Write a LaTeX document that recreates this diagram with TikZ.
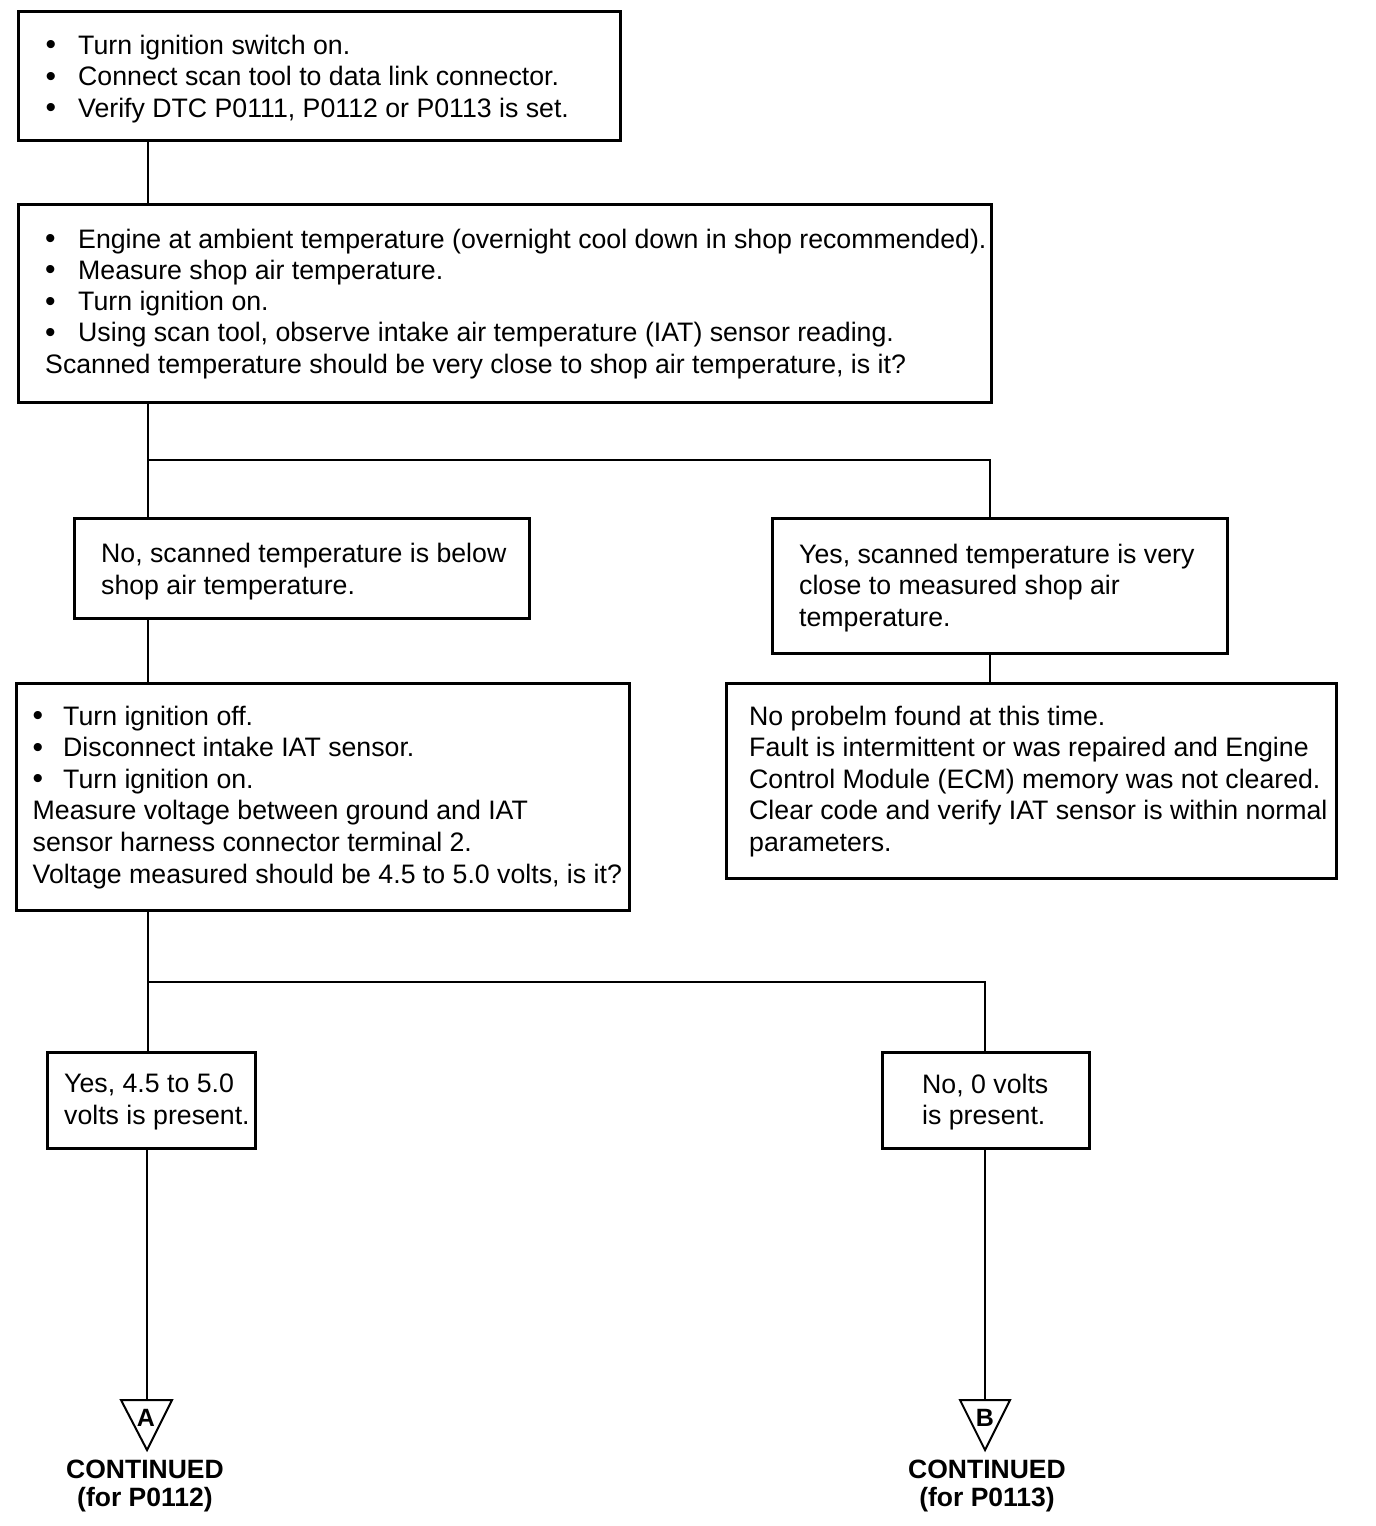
\documentclass[tikz,border=0pt]{standalone}
\usepackage{fontspec}
\setmainfont{Liberation Sans}
\newcommand\bl[1]{\makebox[#1][l]{\raisebox{-0.5pt}{\fontsize{30}{30}\selectfont\textbullet}}}
\begin{document}
\begin{tikzpicture}[x=1pt,y=-1pt,
  box/.style={draw, line width=2.6pt, inner sep=0pt, anchor=north west},
  txt/.style={inner sep=0pt, anchor=base west},
  conn/.style={line width=2.8pt},
  tri/.style={draw, line width=2pt, line join=miter},
  cont/.style={inner sep=0pt, anchor=base, font=\bfseries\fontsize{26.5}{28}\selectfont}]
\useasboundingbox (0,0) rectangle (1376,1526);
\fill[white] (0,0) rectangle (1376,1526);
% boxes
\node[box, minimum width=602pt, minimum height=129pt] (b1) at (17,10) {};
\node[box, minimum width=973pt, minimum height=198pt] (b2) at (17,203) {};
\node[box, minimum width=455pt, minimum height=100pt] (b3) at (73,517) {};
\node[box, minimum width=455pt, minimum height=135pt] (b4) at (771,517) {};
\node[box, minimum width=613pt, minimum height=227pt] (b5) at (15,682) {};
\node[box, minimum width=610pt, minimum height=195pt] (b6) at (725,682) {};
\node[box, minimum width=208pt, minimum height=96pt] (b7) at (46,1051) {};
\node[box, minimum width=207pt, minimum height=96pt] (b8) at (881,1051) {};
% texts
\node[txt] (t1) at (45.5,54) {\parbox[t]{600pt}{\fontsize{26.7}{31.5}\selectfont
\bl{32.5pt}Turn ignition switch on.\\
\bl{32.5pt}Connect scan tool to data link connector.\\
\bl{32.5pt}Verify DTC P0111, P0112 or P0113 is set.}};
\node[txt] (t2) at (45,248) {\parbox[t]{960pt}{\fontsize{26.7}{31.25}\selectfont
\bl{33pt}Engine at ambient temperature (overnight cool down in shop recommended).\\
\bl{33pt}Measure shop air temperature.\\
\bl{33pt}Turn ignition on.\\
\bl{33pt}Using scan tool, observe intake air temperature (IAT) sensor reading.\\
Scanned temperature should be very close to shop air temperature, is it?}};
\node[txt] (t3) at (101,562) {\parbox[t]{440pt}{\fontsize{26.7}{32}\selectfont
No, scanned temperature is below\\
shop air temperature.}};
\node[txt] (t4) at (799,563) {\parbox[t]{440pt}{\fontsize{26.7}{31.5}\selectfont
Yes, scanned temperature is very\\
close to measured shop air\\
temperature.}};
\node[txt] (t5) at (32.5,725) {\parbox[t]{600pt}{\fontsize{26.7}{31.6}\selectfont
\bl{30.5pt}Turn ignition off.\\
\bl{30.5pt}Disconnect intake IAT sensor.\\
\bl{30.5pt}Turn ignition on.\\
Measure voltage between ground and IAT\\
sensor harness connector terminal 2.\\
Voltage measured should be 4.5 to 5.0 volts, is it?}};
\node[txt] (t6) at (749,725) {\parbox[t]{600pt}{\fontsize{26.7}{31.5}\selectfont
No probelm found at this time.\\
Fault is intermittent or was repaired and Engine\\
Control Module (ECM) memory was not cleared.\\
Clear code and verify IAT sensor is within normal\\
parameters.}};
\node[txt] (t7) at (64,1092) {\parbox[t]{200pt}{\fontsize{26.7}{32}\selectfont
Yes, 4.5 to 5.0\\
volts is present.}};
\node[txt] (t8) at (922,1093) {\parbox[t]{200pt}{\fontsize{26.7}{31.5}\selectfont
No, 0 volts\\
is present.}};
% connector coordinates
\coordinate (xa) at (148,0);
\coordinate (xb) at (990,0);
\coordinate (xc) at (985,0);
\coordinate (j1) at (148,460);
\coordinate (j2) at (990,460);
\coordinate (j3) at (148,982);
\coordinate (j4) at (985,982);
\coordinate (ta) at (147,1400);
\coordinate (tb) at (985,1400);
% connectors
\draw[conn] (b1.south -| xa) -- (b2.north -| xa);
\draw[conn] (b2.south -| xa) -- (j1) -- (b3.north -| xa);
\draw[conn] (j1) -- (j2) -- (b4.north -| xb);
\draw[conn] (b3.south -| xa) -- (b5.north -| xa);
\draw[conn] (b4.south -| xb) -- (b6.north -| xb);
\draw[conn] (b5.south -| xa) -- (j3) -- (b7.north -| xa);
\draw[conn] (j3) -- (j4) -- (b8.north -| xc);
\draw[conn] (b7.south -| ta) -- (ta);
\draw[conn] (b8.south -| tb) -- (tb);
% triangles
\draw[tri] (121,1400) -- (172,1400) -- (147,1450) -- cycle;
\draw[tri] (960,1400) -- (1010,1400) -- (985,1450) -- cycle;
\node[inner sep=0pt, font=\bfseries\fontsize{25}{26}\selectfont] (la) at (146,1418) {A};
\node[inner sep=0pt, font=\bfseries\fontsize{25}{26}\selectfont] (lb) at (985,1418) {B};
% continued labels
\node[cont] (ca) at (145,1478) {CONTINUED};
\node[cont] (pa) at (145,1506) {(for P0112)};
\node[cont] (cb) at (987,1478) {CONTINUED};
\node[cont] (pb) at (987,1506) {(for P0113)};
\end{tikzpicture}
\end{document}
